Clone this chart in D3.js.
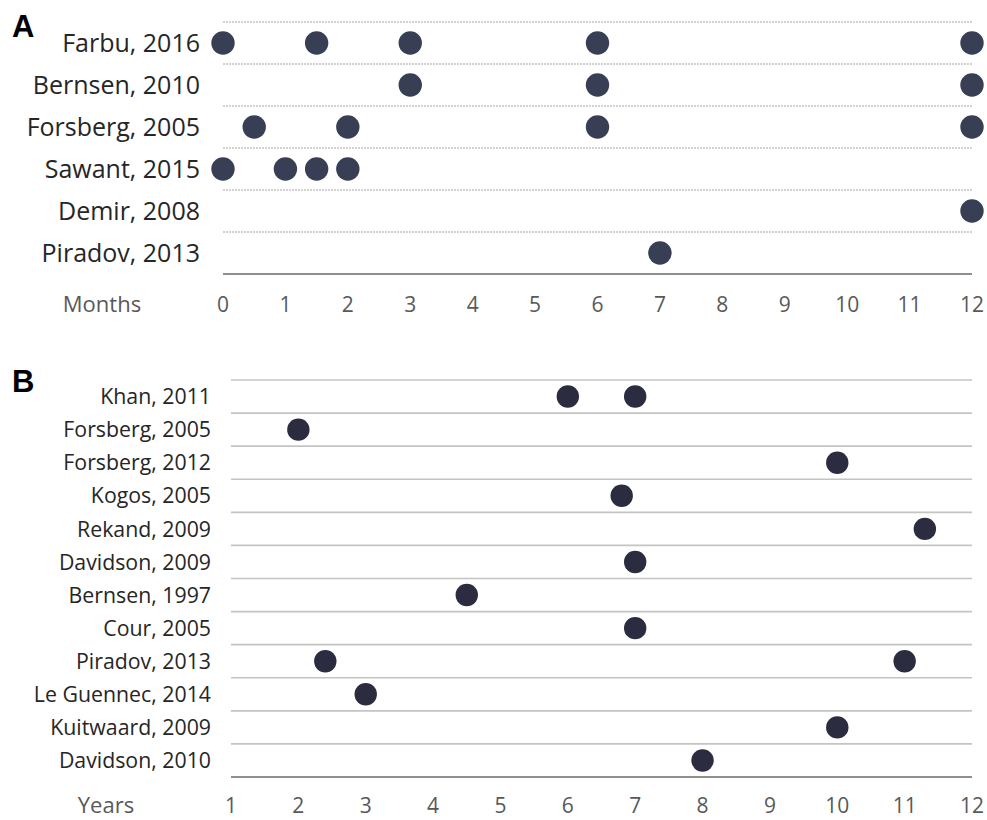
<!DOCTYPE html>
<html lang="en">
<head>
  <meta charset="UTF-8">
  <title>Follow-up times</title>
  <script src="https://cdn.jsdelivr.net/npm/d3@7"></script>
  <style>
    body { margin: 0; background: #fff; }
    svg text { font-family: 'Open Sans', 'Noto Sans', sans-serif; }
    .panel-tag { font-family: 'Liberation Sans', Arial, sans-serif !important; font-weight: bold; }
  </style>
</head>
<body>
  <svg id="chart" width="987" height="820"></svg>
  <script>
    // Panel A: follow-up in months
    const monthStudies = ['Farbu, 2016', 'Bernsen, 2010', 'Forsberg, 2005', 'Sawant, 2015', 'Demir, 2008', 'Piradov, 2013'];
    const monthTimes = [
      [0, 1.5, 3, 6, 12],
      [3, 6, 12],
      [0.5, 2, 6, 12],
      [0, 1, 1.5, 2],
      [12],
      [7]
    ];
    const monthTicks = [0, 1, 2, 3, 4, 5, 6, 7, 8, 9, 10, 11, 12];

    // Panel B: follow-up in years
    const yearStudies = ['Khan, 2011', 'Forsberg, 2005', 'Forsberg, 2012', 'Kogos, 2005', 'Rekand, 2009', 'Davidson, 2009',
      'Bernsen, 1997', 'Cour, 2005', 'Piradov, 2013', 'Le Guennec, 2014', 'Kuitwaard, 2009', 'Davidson, 2010'];
    const yearTimes = [
      [6, 7],
      [2],
      [10],
      [6.8],
      [11.3],
      [7],
      [4.5],
      [7],
      [2.4, 11],
      [3],
      [10],
      [8]
    ];
    const yearTicks = [1, 2, 3, 4, 5, 6, 7, 8, 9, 10, 11, 12];

    const svg = d3.select('#chart');

    function drawPanel(opts) {
      const g = svg.append('g');
      const x = d3.scaleLinear().domain(opts.domain).range([opts.left, opts.right]);
      const y = d3.scaleBand().domain(opts.studies).range([opts.top, opts.bottom]).padding(0);

      // row separators
      const bounds = opts.studies.map(s => y(s));
      g.selectAll('.grid')
        .data(bounds).enter()
        .append('line')
        .attr('x1', opts.left).attr('x2', opts.right)
        .attr('y1', d => d).attr('y2', d => d)
        .attr('stroke', '#c4c4c4')
        .attr('stroke-width', 1.6)
        .attr('stroke-dasharray', opts.dashed ? '2,1' : null);

      // bottom axis line
      g.append('line')
        .attr('x1', opts.left).attr('x2', opts.right)
        .attr('y1', opts.bottom).attr('y2', opts.bottom)
        .attr('stroke', '#8f8f8f')
        .attr('stroke-width', 2);

      // study labels
      g.selectAll('.lab')
        .data(opts.studies).enter()
        .append('text')
        .attr('x', opts.labelX)
        .attr('y', d => y(d) + y.bandwidth() / 2)
        .attr('dy', '0.36em')
        .attr('text-anchor', 'end')
        .attr('fill', '#262626')
        .style('font-size', opts.labelSize + 'px')
        .text(d => d);

      // dots
      const pts = [];
      opts.studies.forEach((s, i) => opts.times[i].forEach(t => pts.push({ s, t })));
      g.selectAll('.dot')
        .data(pts).enter()
        .append('circle')
        .attr('cx', d => x(d.t))
        .attr('cy', d => y(d.s) + y.bandwidth() / 2)
        .attr('r', opts.r)
        .attr('fill', opts.color);

      // tick labels
      g.selectAll('.tick')
        .data(opts.ticks).enter()
        .append('text')
        .attr('x', d => x(d))
        .attr('y', opts.tickY)
        .attr('text-anchor', 'middle')
        .attr('fill', '#595959')
        .style('font-size', '21px')
        .text(d => d);

      g.append('text')
        .attr('x', opts.unitX)
        .attr('y', opts.tickY)
        .attr('text-anchor', 'middle')
        .attr('fill', '#595959')
        .style('font-size', opts.unitSize + 'px')
        .text(opts.unit);

      g.append('text')
        .attr('class', 'panel-tag')
        .attr('x', 12)
        .attr('y', opts.tagY)
        .attr('fill', '#000')
        .style('font-size', '31px')
        .text(opts.tag);
    }

    drawPanel({
      tag: 'A', tagY: 37, studies: monthStudies, times: monthTimes, ticks: monthTicks,
      domain: [0, 12], left: 223, right: 972, top: 22, bottom: 274,
      labelX: 200, labelSize: 25, r: 11.7, color: '#383f55',
      tickY: 312, unit: 'Months', unitX: 102, unitSize: 22, dashed: true
    });

    drawPanel({
      tag: 'B', tagY: 392, studies: yearStudies, times: yearTimes, ticks: yearTicks,
      domain: [1, 12], left: 231, right: 972, top: 380, bottom: 777,
      labelX: 211, labelSize: 21.3, r: 11.2, color: '#2b2c40',
      tickY: 813, unit: 'Years', unitX: 106, unitSize: 22, dashed: false
    });
  </script>
</body>
</html>
